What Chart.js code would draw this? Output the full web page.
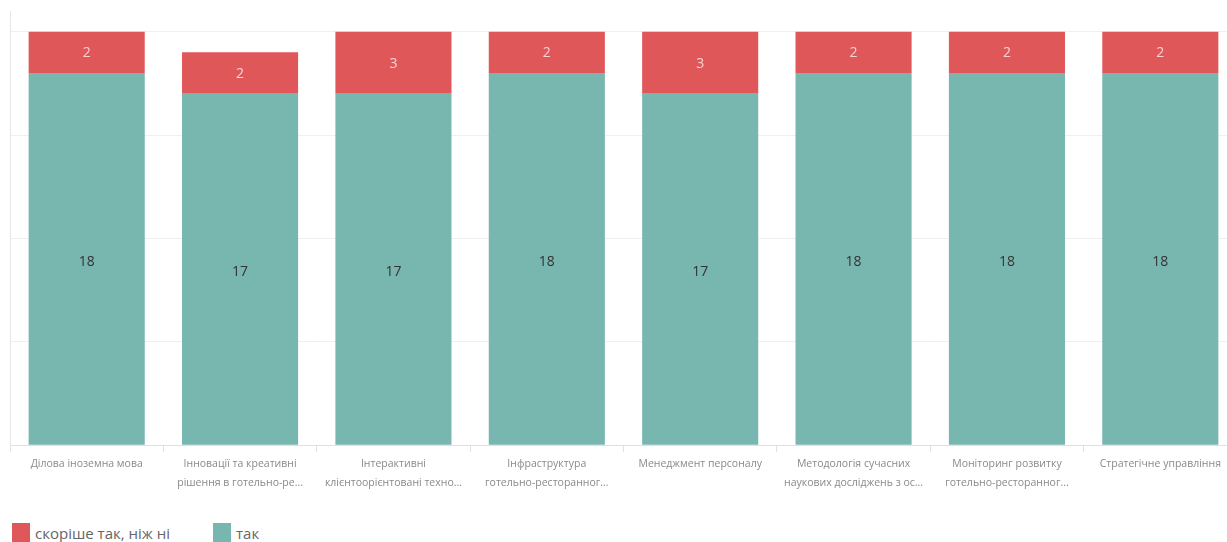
<!DOCTYPE html>
<html>
<head>
<meta charset="utf-8">
<script src="https://cdn.jsdelivr.net/npm/chart.js@4/dist/chart.umd.min.js"></script>
<style>
  html, body { margin:0; padding:0; background:#fff; overflow:hidden; width:1227px; height:542px; }
  #wrap { position:absolute; left:0; top:0; width:1237px; height:500px; }
  #legend { position:absolute; left:12px; top:523px; font-family:"Open Sans", "Noto Sans", sans-serif; font-size:15px; color:#666; white-space:nowrap; }
  .item { position:absolute; top:0; height:24px; }
  .box { position:absolute; left:0; top:0px; width:18px; height:22px; }
  .lbl { position:absolute; left:23px; top:0px; line-height:20px; }
</style>
</head>
<body>
<div id="wrap"><canvas id="c"></canvas></div>
<div id="legend"></div>
<script>
const categories = [
  "Ділова іноземна мова",
  ["Інновації та креативні", "рішення в готельно-ре..."],
  ["Інтерактивні", "клієнтоорієнтовані техно..."],
  ["Інфраструктура", "готельно-ресторанног..."],
  "Менеджмент персоналу",
  ["Методологія сучасних", "наукових досліджень з ос..."],
  ["Моніторинг розвитку", "готельно-ресторанног..."],
  "Стратегічне управління"
];
const seriesNames = ["так", "скоріше так, ніж ні"];
const takValues = [18, 17, 17, 18, 17, 18, 18, 18];
const ratherValues = [2, 2, 3, 2, 3, 2, 2, 2];
const yTickValues = [0, 5, 10, 15, 20];

const colors = { tak: "#78b6b0", rather: "#e0575a" };

const labelPlugin = {
  id: "segLabels",
  afterDatasetsDraw(chart) {
    const ctx = chart.ctx;
    ctx.save();
    ctx.textAlign = "center";
    ctx.textBaseline = "middle";
    ctx.font = "14px 'Open Sans', 'Noto Sans', sans-serif";
    chart.data.datasets.forEach((ds, di) => {
      const meta = chart.getDatasetMeta(di);
      meta.data.forEach((el, i) => {
        const v = ds.data[i];
        ctx.fillStyle = di === 0 ? "#333333" : "#f7d2d2";
        ctx.fillText(String(v), el.x, (el.y + el.base) / 2 + (di === 0 ? 3 : 1));
      });
    });
    ctx.restore();
  }
};

const chart = new Chart(document.getElementById("c"), {
  type: "bar",
  data: {
    labels: categories,
    datasets: [
      { label: seriesNames[0], data: takValues, backgroundColor: colors.tak, barPercentage: 0.87, categoryPercentage: 0.87 },
      { label: seriesNames[1], data: ratherValues, backgroundColor: colors.rather, barPercentage: 0.87, categoryPercentage: 0.87 }
    ]
  },
  options: {
    responsive: true,
    maintainAspectRatio: false,
    animation: false,
    layout: { padding: { left: 10, top: 11, right: 0, bottom: 5 } },
    plugins: { legend: { display: false }, tooltip: { enabled: false } },
    scales: {
      x: {
        stacked: true,
        grid: { drawOnChartArea: false, color: "#e0e0e0", tickLength: 7 },
        border: { color: "#e0e0e0" },
        ticks: {
          color: "#8a8a8a", maxRotation: 0, autoSkip: false, padding: 2,
          font: { family: "'Open Sans', 'Noto Sans', sans-serif", size: 10.5, lineHeight: 1.85 }
        }
      },
      y: {
        stacked: true,
        min: 0, max: 21,
        afterBuildTicks(axis) { axis.ticks = yTickValues.map(v => ({ value: v })); },
        ticks: { display: false },
        grid: { color: "#efefef", drawTicks: false },
        border: { color: "#e6e6e6" }
      }
    }
  },
  plugins: [labelPlugin]
});

const legend = document.getElementById("legend");
const legendItems = [
  { name: seriesNames[1], color: colors.rather, left: 0 },
  { name: seriesNames[0], color: colors.tak, left: 201 }
];
legendItems.forEach(it => {
  const d = document.createElement("div");
  d.className = "item";
  d.style.left = it.left + "px";
  d.innerHTML = '<div class="box" style="background:' + it.color + '"></div><div class="lbl">' + it.name + '</div>';
  legend.appendChild(d);
});
</script>
</body>
</html>
